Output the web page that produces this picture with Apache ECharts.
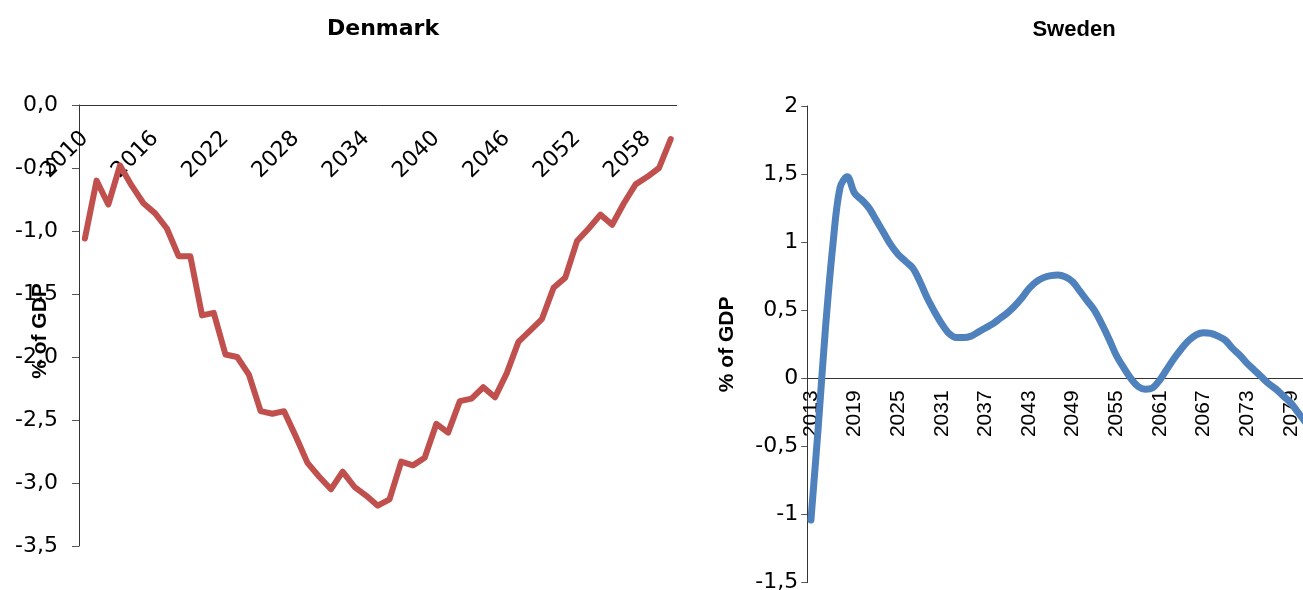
<!DOCTYPE html>
<html>
<head>
<meta charset="utf-8">
<script src="https://cdn.jsdelivr.net/npm/echarts@6/dist/echarts.min.js"></script>
<style>
  html, body { margin: 0; padding: 0; background: #fff; }
  #chart { width: 1303px; height: 590px; }
</style>
</head>
<body>
<div id="chart"></div>
<script>
// Denmark: annual values 2010-2060, % of GDP
const dkYears = [];
for (let y = 2010; y <= 2060; y++) dkYears.push(String(y));
const dkValues = [
  -1.06, -0.60, -0.79, -0.48, -0.64, -0.78, -0.86, -0.98, -1.20, -1.20,
  -1.67, -1.65, -1.98, -2.00, -2.14, -2.43, -2.45, -2.43, -2.63, -2.84,
  -2.95, -3.05, -2.91, -3.03, -3.10, -3.18, -3.13, -2.83, -2.86, -2.80,
  -2.53, -2.60, -2.35, -2.33, -2.24, -2.32, -2.13, -1.88, -1.79, -1.70,
  -1.45, -1.37, -1.08, -0.98, -0.87, -0.95, -0.78, -0.63, -0.57, -0.50,
  -0.27
];

// Sweden: annual values 2013-2081, % of GDP
const seYears = [];
for (let y = 2013; y <= 2081; y++) seYears.push(String(y));
const seValues = [
  -1.04, -0.36, 0.37, 0.97, 1.40, 1.48, 1.36,
  1.31, 1.25, 1.16, 1.07, 0.98, 0.91, 0.86, 0.81, 0.71, 0.59,
  0.49, 0.40, 0.33, 0.30, 0.30, 0.31, 0.34, 0.37, 0.40, 0.44,
  0.48, 0.53, 0.59, 0.66, 0.71, 0.74, 0.755, 0.76, 0.745, 0.71,
  0.64, 0.57, 0.50, 0.40, 0.29, 0.17, 0.08, 0.00, -0.06, -0.08,
  -0.07, -0.01, 0.07, 0.15, 0.22, 0.28, 0.32, 0.335, 0.33, 0.31,
  0.28, 0.22, 0.17, 0.11, 0.06, 0.01, -0.04, -0.08, -0.13, -0.18,
  -0.25, -0.32
];

const titles = ['Denmark', 'Sweden'];
const yName = '% of GDP';

const ARIAL = '"Liberation Sans", Arial, sans-serif';
const WIDE = '"DejaVu Sans", Verdana, sans-serif';
const axisLineColor = '#333333';
const tickColor = '#555555';

// plot areas
const dkGrid = { left: 79, top: 105, width: 597.6, height: 441 };
const seGrid = { left: 807.3, top: 106, width: 501.6, height: 476.7 };
const dkMin = -3.5, dkMax = 0;
const seMin = -1.5, seMax = 2;
// the category axis crosses each value axis at 0
const dkZeroOffset = -dkGrid.height * (0 - dkMin) / (dkMax - dkMin);
const seZeroOffset = -seGrid.height * (0 - seMin) / (seMax - seMin);

const chart = echarts.init(document.getElementById('chart'), null, { renderer: 'canvas' });

chart.setOption({
  backgroundColor: '#ffffff',
  animation: false,
  title: [
    { text: titles[0], left: 378, top: 13, textAlign: 'center',
      textStyle: { fontFamily: WIDE, fontSize: 22, fontWeight: 'bold', color: '#000' } },
    { text: titles[1], left: 1069, top: 14, textAlign: 'center',
      textStyle: { fontFamily: ARIAL, fontSize: 22, fontWeight: 'bold', color: '#000' } }
  ],
  grid: [
    Object.assign({ containLabel: false, outerBoundsMode: 'none' }, dkGrid),
    Object.assign({ containLabel: false, outerBoundsMode: 'none' }, seGrid)
  ],
  xAxis: [
    {
      type: 'category', gridIndex: 0, data: dkYears, boundaryGap: true,
      position: 'bottom', offset: dkZeroOffset,
      axisLine: { onZero: false, lineStyle: { color: axisLineColor, width: 1 } },
      axisTick: { interval: 0, length: 7, lineStyle: { color: tickColor } },
      axisLabel: {
        interval: 5, rotate: 45, margin: 30, hideOverlap: false,
        fontFamily: WIDE, fontSize: 22, color: '#000'
      },
      splitLine: { show: false }
    },
    {
      type: 'category', gridIndex: 1, data: seYears, boundaryGap: true,
      position: 'bottom', offset: seZeroOffset,
      axisLine: { onZero: false, lineStyle: { color: axisLineColor, width: 1 } },
      axisTick: { interval: 0, length: 6, lineStyle: { color: tickColor } },
      axisLabel: {
        interval: 5, rotate: 90, margin: 12, hideOverlap: false,
        fontFamily: ARIAL, fontSize: 21, color: '#000'
      },
      splitLine: { show: false }
    }
  ],
  yAxis: [
    {
      type: 'value', gridIndex: 0, min: dkMin, max: dkMax, interval: 0.5,
      name: yName, nameLocation: 'middle', nameGap: 28, nameMoveOverlap: false,
      nameTextStyle: { fontFamily: ARIAL, fontSize: 21, fontWeight: 'bold', color: '#000',
        padding: [0, 11, 0, 0] },
      axisLine: { show: true, lineStyle: { color: axisLineColor, width: 1 } },
      axisTick: { show: true, length: 7, lineStyle: { color: tickColor } },
      axisLabel: {
        margin: 21, fontFamily: WIDE, fontSize: 22, color: '#000',
        formatter: v => v.toFixed(1).replace('.', ',')
      },
      splitLine: { show: false }
    },
    {
      type: 'value', gridIndex: 1, min: seMin, max: seMax, interval: 0.5,
      name: yName, nameLocation: 'middle', nameGap: 70, nameMoveOverlap: false,
      nameTextStyle: { fontFamily: ARIAL, fontSize: 21, fontWeight: 'bold', color: '#000' },
      axisLine: { show: true, lineStyle: { color: axisLineColor, width: 1 } },
      axisTick: { show: true, length: 6, lineStyle: { color: tickColor } },
      axisLabel: {
        margin: 9, fontFamily: WIDE, fontSize: 22, color: '#000',
        formatter: v => String(Math.round(v * 10) / 10).replace('.', ',')
      },
      splitLine: { show: false }
    }
  ],
  series: [
    {
      type: 'line', xAxisIndex: 0, yAxisIndex: 0, data: dkValues,
      showSymbol: false, smooth: false,
      lineStyle: { color: '#C0504D', width: 6, join: 'round', cap: 'round' }
    },
    {
      type: 'line', xAxisIndex: 1, yAxisIndex: 1, data: seValues,
      showSymbol: false, smooth: 0.35,
      lineStyle: { color: '#4F81BD', width: 7, join: 'round', cap: 'round' }
    }
  ]
});
</script>
</body>
</html>
